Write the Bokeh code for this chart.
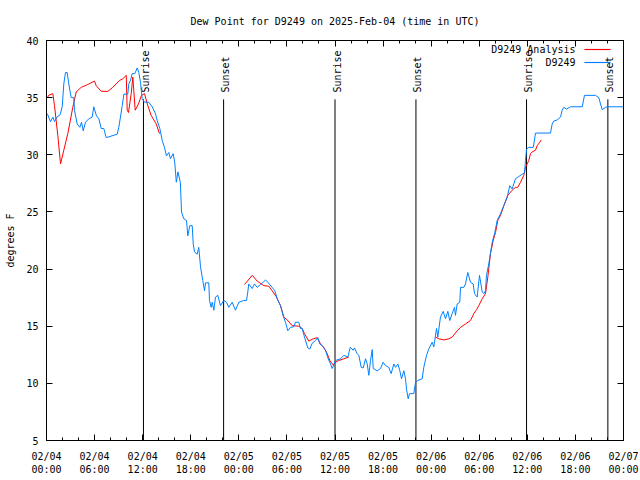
import math
import pandas as pd
from bokeh.plotting import figure
from bokeh.models import (Range1d, FixedTicker, DatetimeTickFormatter, LinearAxis,
                          DatetimeAxis, Label, BoxAnnotation, CustomJSTickFormatter)
from bokeh.core.properties import value
from bokeh.embed import file_html
from bokeh.resources import INLINE

START = "2025-02-04 00:00"
TITLE = "Dew Point for D9249 on 2025-Feb-04 (time in UTC)"

# Observed dew point (hours after start, degrees F)
obs_hours = [0.1, 0.5, 0.8, 1.0, 1.3, 1.7, 1.96, 2.16, 2.37, 2.58, 2.78, 3.08, 3.41, 3.49, 3.83,
             4.16, 4.37, 4.58, 4.87, 5.28, 5.7, 5.9, 6.24, 6.53, 6.83, 7.15, 7.45, 8.82, 9.02,
             9.23, 9.45, 9.65, 10.14, 10.27, 10.48, 10.69, 11.02, 11.32, 11.52, 11.73, 11.94,
             12.23, 12.76, 13.19, 13.6, 13.81, 14.14, 14.44, 14.72, 14.97, 15.26, 15.47, 15.8,
             16.0, 16.2, 16.4, 16.7, 16.85, 17.13, 17.47, 17.63, 17.88, 18.18, 18.31, 18.47,
             18.8, 19.0, 19.22, 19.5, 19.72, 19.84, 20.25, 20.34, 20.55, 20.68, 20.88, 21.09,
             21.38, 21.71, 22.12, 22.46, 22.75, 23.17, 23.58, 24.0, 24.62, 24.96, 25.12, 25.24,
             25.67, 25.95, 26.29, 26.7, 27.04, 27.33, 27.61, 28.16, 28.49, 28.79, 29.2, 29.54,
             29.82, 30.11, 30.45, 30.86, 31.07, 31.48, 31.7, 31.91, 32.19, 32.61, 32.86, 33.15,
             33.57, 33.85, 34.1, 34.4, 34.81, 35.15, 35.44, 35.65, 36.06, 36.69, 37.1, 37.6,
             37.9, 38.27, 38.43, 38.77, 38.97, 39.27, 39.52, 39.81, 40.02, 40.22, 40.43, 40.64,
             40.77, 41.27, 41.68, 42.01, 42.3, 42.71, 43.01, 43.34, 43.55, 43.84, 44.09, 44.3,
             44.59, 44.8, 44.92, 45.13, 45.3, 45.83, 46.05, 46.33, 46.88, 47.08, 47.42, 47.7,
             48.13, 48.33, 48.67, 48.83, 49.16, 49.5, 49.79, 50.08, 50.32, 50.62, 50.91, 51.03,
             51.25, 51.57, 51.66, 52.07, 52.28, 52.57, 52.91, 53.24, 53.41, 53.74, 54.03, 54.37,
             54.57, 54.78, 54.9, 55.19, 55.32, 55.62, 55.94, 56.24, 56.65, 57.06, 57.49, 57.81,
             58.11, 58.31, 58.52, 58.93, 59.36, 59.65, 59.77, 59.9, 60.18, 60.73, 60.81, 61.02,
             62.89, 63.1, 63.3, 63.73, 64.14, 64.35, 64.55, 64.89, 65.39, 66.85, 67.13, 68.5,
             68.92, 69.13, 69.34, 69.75, 70.04, 72.0]
obs_dewpt = [33.6, 32.9, 33.3, 32.9, 33.3, 33.5, 34.2, 36.2, 37.2, 37.2, 36.2, 35.0, 35.0, 33.9, 32.7,
             32.4, 32.85, 32.1, 32.85, 33.15, 33.3, 34.2, 33.4, 33.15, 32.3, 32.3, 31.5, 31.8, 32.4,
             33.3, 34.3, 35.3, 35.3, 36.2, 36.5, 37.1, 37.1, 37.6, 37.2, 36.35, 34.9,
             34.6, 34.6, 34.2, 33.6, 33.0, 32.3, 31.25, 30.65, 29.9, 30.2, 29.65, 30.1,
             29.35, 27.6, 28.5, 27.6, 25.0, 24.4, 24.25, 22.9, 23.8, 23.8, 22.2, 21.5,
             21.3, 21.9, 20.2, 19.0, 18.1, 18.8, 18.8, 17.25, 16.65, 17.1, 16.4, 17.55,
             17.7, 16.8, 17.25, 17.1, 16.65, 17.1, 16.4, 17.1, 17.25, 17.25, 18.0, 18.7,
             18.3, 18.7, 18.4, 18.65, 18.85, 19.05, 18.85, 18.4, 18.1, 17.4, 16.8, 15.9,
             15.35, 14.6, 14.9, 14.95, 15.35, 15.35, 14.8, 14.8, 14.05, 13.1, 13.0, 13.5,
             13.75, 14.0, 13.45, 13.3, 12.9, 12.15, 11.7, 11.3, 12.0, 12.15, 12.45, 12.3,
             13.15, 12.9, 13.1, 12.6, 12.45, 11.4, 11.35, 12.15, 11.7, 10.7, 12.0, 12.95,
             11.3, 11.1, 11.3, 11.85, 11.55, 11.4, 10.85, 11.7, 11.4, 11.7, 11.1, 10.4,
             11.1, 10.4, 9.5, 8.65, 9.1, 9.1, 10.1, 10.25, 10.4, 11.4, 12.45, 13.0,
             13.6, 13.2, 14.8, 14.05, 15.8, 16.3, 15.65, 16.3, 15.5, 16.1, 16.65, 15.95,
             16.95, 17.1, 18.4, 18.4, 18.7, 19.7, 18.85, 18.7, 17.85, 17.55, 19.45, 18.0,
             17.85, 18.1, 19.45, 20.45, 21.05, 22.35, 23.2, 24.25, 24.85, 25.55, 26.3, 27.3,
             27.0, 27.45, 27.9, 28.1, 28.3, 28.4, 29.5, 30.5, 30.65, 30.65, 30.95, 31.9,
             31.9, 32.7, 32.95, 33.05, 33.3, 33.9, 34.15, 34.0, 34.2, 34.2, 35.2, 35.2,
             35.0, 34.45, 33.95, 34.15, 34.2, 34.2]

# Analysis dew point, three separate runs
analysis1_hours = [0.12, 0.25, 0.79, 1.0, 1.41, 1.75, 2.16, 2.66, 3.28, 3.71, 4.33, 5.15, 5.99, 6.2,
                   6.83, 7.65, 8.27, 9.11, 9.52, 9.95, 10.07, 10.23, 10.57, 10.77, 11.07, 11.48,
                   11.85, 12.23, 12.64, 13.06, 13.69, 14.1]
analysis1_dewpt = [35.0, 35.2, 35.35, 34.3, 31.7, 29.2, 30.4, 31.85, 34.15, 35.5, 35.9, 36.15, 36.45,
                   36.05, 35.55, 35.55, 35.9, 36.5, 36.65, 36.95, 33.9, 33.7, 35.35, 36.8, 33.9,
                   34.45, 35.2, 35.35, 34.3, 33.45, 32.7, 31.85]
analysis2_hours = [24.71, 25.67, 26.29, 27.12, 27.74, 28.16, 28.7, 29.2, 29.61, 30.04, 30.66, 31.48,
                   31.91, 32.19, 32.73, 33.28, 33.78, 34.19, 34.6, 35.03, 35.35, 35.78, 36.06,
                   36.47, 37.1, 37.72]
analysis2_dewpt = [18.65, 19.45, 18.95, 18.55, 18.5, 18.1, 17.55, 16.8, 15.8, 15.55, 15.05, 15.0,
                   14.8, 14.35, 13.7, 13.9, 14.0, 13.45, 13.15, 12.6, 12.0, 11.6, 11.85, 12.0,
                   12.15, 12.3]
analysis3_hours = [48.54, 48.95, 49.58, 50.2, 50.62, 51.25, 51.66, 52.28, 52.91, 53.32, 53.66, 53.94,
                   54.37, 54.78, 55.07, 55.4, 55.74, 56.03, 56.31, 56.65, 57.15, 57.56, 58.11,
                   58.52, 58.81, 59.15, 59.56, 59.77, 60.18, 60.39, 60.6, 61.02, 61.23, 61.56, 61.73]
analysis3_dewpt = [14.05, 13.9, 13.8, 13.9, 14.05, 14.6, 14.9, 15.2, 15.5, 16.1, 16.45, 16.8,
                   17.4, 17.85, 19.3, 21.35, 22.5, 23.2, 24.25, 24.7, 25.7, 26.45, 26.9,
                   27.15, 27.15, 27.6, 28.2, 28.9, 29.5, 30.1, 30.25, 30.4, 30.8, 31.1, 31.3]

sunrise_hours = [12.1, 36.0, 59.9]
sunset_hours = [22.1, 46.1, 70.05]
x_tick_hours = [0, 6, 12, 18, 24, 30, 36, 42, 48, 54, 60, 66, 72]
x_minor_hours = list(range(0, 73, 2))
y_ticks = [5, 10, 15, 20, 25, 30, 35, 40]

FONT = "DejaVu Sans Mono"
OBS_COLOR = "#0080ff"
ANA_COLOR = "#ff0000"

t0 = pd.Timestamp(START)


def to_ms(hours):
    return [(t0 + pd.Timedelta(hours=h)).value / 1e6 for h in hours]


p = figure(width=640, height=480, x_axis_type=None, y_axis_type=None,
           x_range=Range1d(to_ms([0])[0], to_ms([72])[0]), y_range=Range1d(5, 40),
           output_backend="svg", toolbar_location=None,
           min_border_left=46, min_border_right=17, min_border_top=40, min_border_bottom=40,
           title=TITLE)
p.title.text_font = FONT
p.title.text_font_size = "10px"
p.title.text_font_style = "normal"
p.title.text_color = "black"
p.title.align = "center"
p.title.offset = -3
p.title.standoff = 27
p.grid.visible = False
p.outline_line_color = "black"
p.outline_line_width = 1

xt = FixedTicker(ticks=to_ms(x_tick_hours), minor_ticks=to_ms(x_minor_hours))
fmt = DatetimeTickFormatter(hours="%m/%d\n%H:%M", days="%m/%d\n%H:%M", hourmin="%m/%d\n%H:%M",
                            minutes="%m/%d\n%H:%M")
yt = FixedTicker(ticks=y_ticks)
blank = CustomJSTickFormatter(code="return ''")


def style(ax, labels=True):
    ax.axis_line_color = None
    ax.major_tick_in = 6
    ax.major_tick_out = 0
    ax.minor_tick_in = 3
    ax.minor_tick_out = 0
    ax.major_tick_line_color = "black"
    ax.minor_tick_line_color = "black"
    ax.major_label_text_font = FONT
    ax.major_label_text_color = "black"
    ax.major_label_text_font_size = "10px"
    if not labels:
        ax.formatter = blank
        ax.major_label_standoff = 0


xb = DatetimeAxis(ticker=xt, formatter=fmt)
style(xb)
xb.major_label_standoff = 10
p.add_layout(xb, "below")

xa = DatetimeAxis(ticker=xt)
style(xa, labels=False)
p.add_layout(xa, "above")

yl = LinearAxis(ticker=yt, axis_label="degrees F")
style(yl)
yl.minor_tick_line_color = None
yl.major_label_standoff = 8
yl.axis_label_standoff = 7
yl.axis_label_text_font = FONT
yl.axis_label_text_font_size = "10px"
yl.axis_label_text_font_style = "normal"
yl.axis_label_text_color = "black"
p.add_layout(yl, "left")

yr = LinearAxis(ticker=yt)
style(yr, labels=False)
yr.minor_tick_line_color = None
p.add_layout(yr, "right")

# Sunrise / sunset markers
ev_hours = sunrise_hours + sunset_hours
ev_names = ["Sunrise"] * len(sunrise_hours) + ["Sunset"] * len(sunset_hours)
ev_ms = to_ms(ev_hours)
p.segment(x0=ev_ms, y0=[5] * len(ev_ms), x1=ev_ms, y1=[34.85] * len(ev_ms),
          line_color="black", line_width=1)
p.text(x=ev_ms, y=[35.45] * len(ev_ms), text=ev_names, angle=math.pi / 2,
       text_align="left", text_baseline="middle", x_offset=2,
       text_font=value(FONT), text_font_size="10px", text_color="black")

# Data lines
for hs, vs in [(analysis1_hours, analysis1_dewpt), (analysis2_hours, analysis2_dewpt),
               (analysis3_hours, analysis3_dewpt)]:
    p.line(to_ms(hs), vs, line_color=ANA_COLOR, line_width=1)
p.line(to_ms(obs_hours), obs_dewpt, line_color=OBS_COLOR, line_width=1)

# Gnuplot-style key (text followed by sample line), top right
for i, (name, col) in enumerate([("D9249 Analysis", ANA_COLOR), ("D9249", OBS_COLOR)]):
    yy = 391 - 13 * i
    p.add_layout(Label(x=529, y=yy, x_units="screen", y_units="screen", text=name,
                       text_align="right", text_baseline="middle", text_font=FONT,
                       text_font_size="10px", text_color="black"))
    p.add_layout(BoxAnnotation(left=538, right=564, bottom=yy - 0.5, top=yy + 0.5,
                               left_units="screen", right_units="screen",
                               bottom_units="screen", top_units="screen",
                               fill_color=col, fill_alpha=1, line_color=col, line_width=0.5))

open("out.html", "w").write(file_html(p, INLINE))
